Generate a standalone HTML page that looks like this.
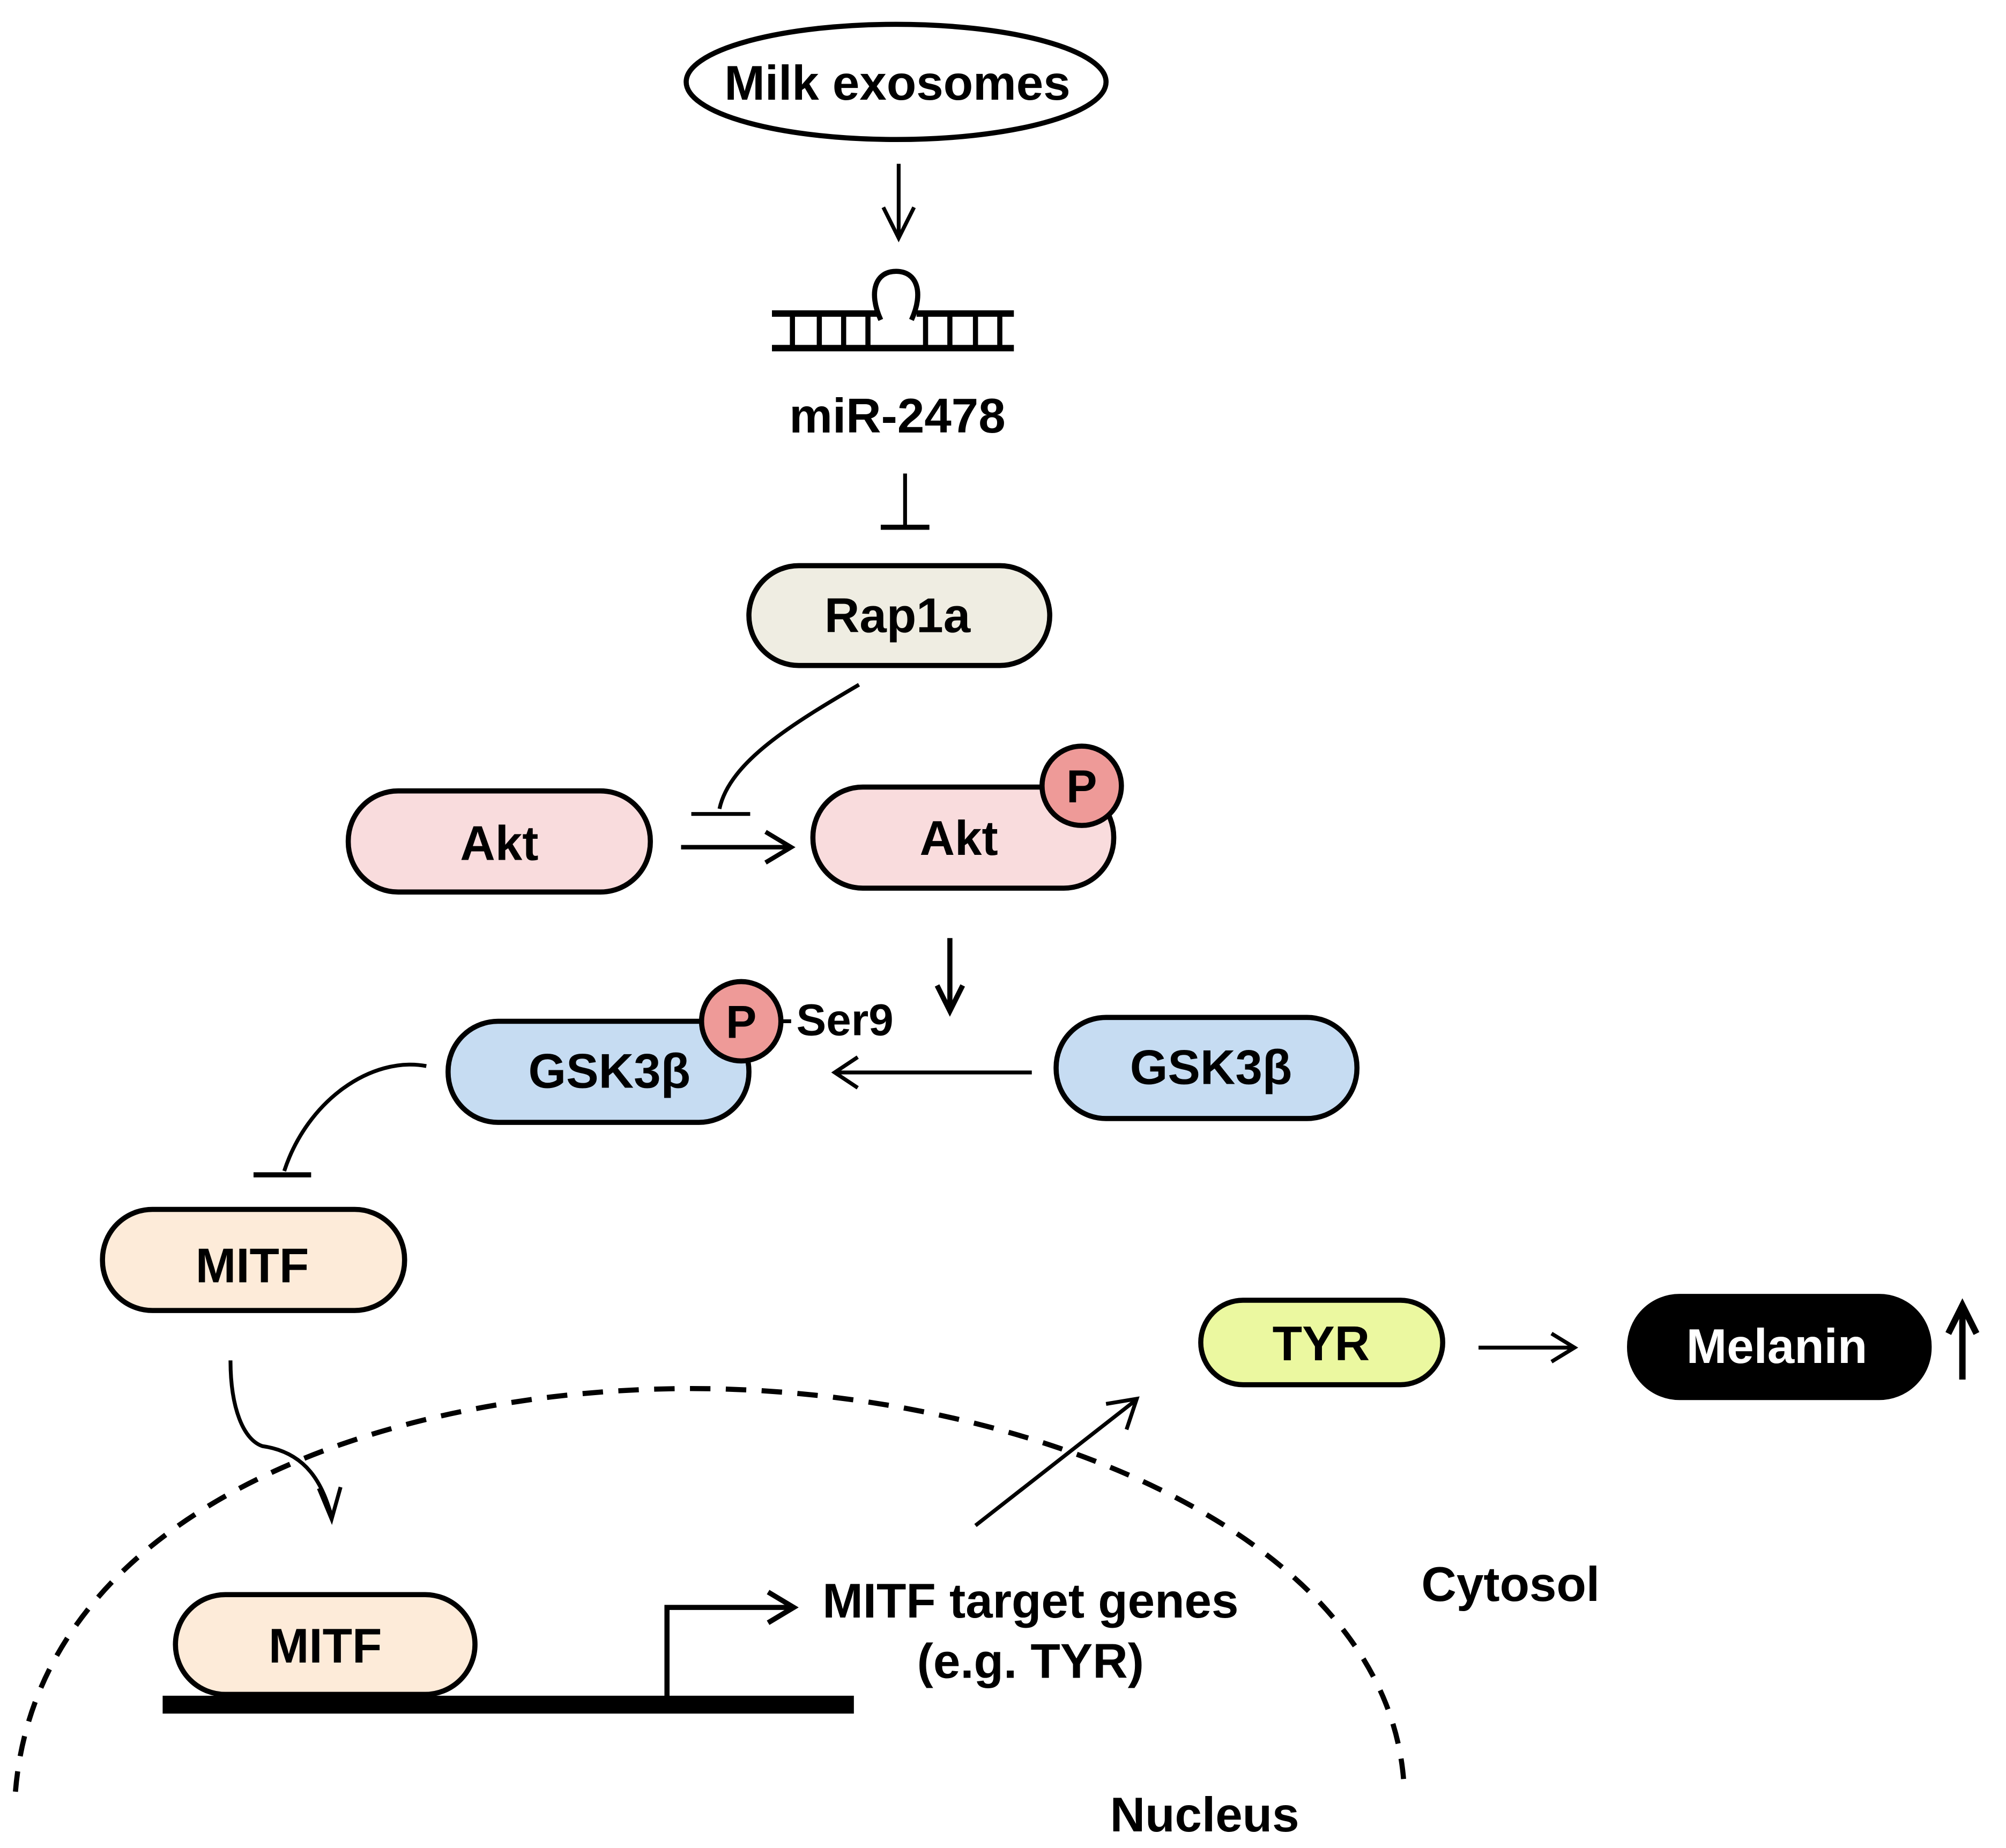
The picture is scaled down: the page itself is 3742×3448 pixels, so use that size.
<!DOCTYPE html>
<html><head><meta charset="utf-8"><style>
html,body{margin:0;padding:0;background:#fff;}
svg{display:block;}
text{font-family:"Liberation Sans",Arial,sans-serif;font-weight:bold;fill:#000;text-anchor:middle;}
</style></head><body>
<svg width="3742" height="3448" viewBox="0 0 1567 1444" xmlns="http://www.w3.org/2000/svg">
<g fill="none" stroke="#000" stroke-width="3" stroke-linecap="butt">
<ellipse cx="700" cy="64" rx="164" ry="45" fill="#fff" stroke-width="4"/>
<line x1="702" y1="128" x2="702" y2="185"/>
<polyline points="690,162 702,186 714,162"/>
<line x1="603" y1="245" x2="686" y2="245" stroke-width="5"/>
<line x1="716" y1="245" x2="792" y2="245" stroke-width="5"/>
<line x1="603" y1="272" x2="792" y2="272" stroke-width="5"/>
<path d="M688,250 C678,228 684,212 700,212 C716,212 722,228 712,250" stroke-width="4"/>
<g stroke-width="4">
<line x1="619" y1="245" x2="619" y2="272"/><line x1="640" y1="245" x2="640" y2="272"/>
<line x1="659" y1="245" x2="659" y2="272"/><line x1="678" y1="245" x2="678" y2="272"/>
<line x1="723" y1="245" x2="723" y2="272"/><line x1="742" y1="245" x2="742" y2="272"/>
<line x1="762" y1="245" x2="762" y2="272"/><line x1="781" y1="245" x2="781" y2="272"/>
</g>
<line x1="707" y1="370" x2="707" y2="411"/>
<line x1="688" y1="412" x2="726" y2="412" stroke-width="4"/>
<rect x="585" y="442" width="235" height="78" rx="39" fill="#efede2" stroke-width="4"/>
<path d="M671,535 C620,565 570,595 562,632"/>
<line x1="540" y1="636" x2="586" y2="636"/>
<line x1="532" y1="662" x2="616" y2="662" stroke-width="3.5"/>
<polyline points="598,650 618,662 598,674" stroke-width="3.5"/>
<rect x="272" y="618" width="236" height="79" rx="39" fill="#f9dcdd" stroke-width="4"/>
<rect x="635" y="615" width="235" height="79" rx="39" fill="#f9dcdd" stroke-width="4"/>
<circle cx="845" cy="614" r="31" fill="#ee9a98" stroke-width="4"/>
<line x1="742" y1="733" x2="742" y2="788" stroke-width="4"/>
<polyline points="732,770 742,790 752,770" stroke-width="4"/>
<rect x="350" y="798" width="235" height="79" rx="39" fill="#c6dcf2" stroke-width="4"/>
<circle cx="579" cy="798" r="31" fill="#ee9a98" stroke-width="4"/>
<line x1="610" y1="798" x2="618" y2="798"/>
<rect x="825" y="795" width="235" height="79" rx="39" fill="#c6dcf2" stroke-width="4"/>
<line x1="806" y1="838" x2="653" y2="838"/>
<polyline points="670,826 652,838 670,850"/>
<path d="M333,833 C290,825 240,860 222,915"/>
<line x1="198" y1="918" x2="243" y2="918" stroke-width="4"/>
<rect x="80" y="945" width="236" height="79" rx="39" fill="#fdebd9" stroke-width="4"/>
<path d="M180,1063 C180,1100 190,1125 205,1130 C240,1135 252,1160 259,1185"/>
<polyline points="249,1163 259,1187 266,1162"/>
<path d="M12,1400 C30,1180 300,1085 540,1085 C800,1085 1090,1200 1097,1400" stroke-width="4" stroke-dasharray="16,12"/>
<line x1="762" y1="1192" x2="886" y2="1095"/>
<polyline points="864,1097 888,1093 880,1117"/>
<rect x="938" y="1016" width="189" height="66" rx="33" fill="#ebf8a0" stroke-width="4"/>
<line x1="1155" y1="1053" x2="1229" y2="1053"/>
<polyline points="1212,1042 1230,1053 1212,1064"/>
<rect x="1272" y="1012" width="236" height="81" rx="40" fill="#000" stroke-width="2"/>
<line x1="1533" y1="1078" x2="1533" y2="1025" stroke-width="5"/>
<polyline points="1522,1042 1533,1020 1544,1042" stroke-width="5"/>
<rect x="137" y="1246" width="234" height="78" rx="39" fill="#fdebd9" stroke-width="4"/>
<line x1="127" y1="1332" x2="667" y2="1332" stroke-width="14"/>
<polyline points="521,1326 521,1256 618,1256" stroke-width="4"/>
<polyline points="600,1244 620,1256 600,1268" stroke-width="4"/>
</g>
<text x="701" y="78" font-size="38">Milk exosomes</text>
<text x="701" y="338" font-size="38">miR-2478</text>
<text x="701" y="494" font-size="38">Rap1a</text>
<text x="390" y="672" font-size="38">Akt</text>
<text x="749" y="668" font-size="38">Akt</text>
<text x="845" y="627" font-size="36">P</text>
<text x="476" y="850" font-size="38">GSK3β</text>
<text x="579" y="811" font-size="36">P</text>
<text x="660" y="809" font-size="35">Ser9</text>
<text x="946" y="847" font-size="38">GSK3β</text>
<text x="197" y="1002" font-size="38">MITF</text>
<text x="1032" y="1063" font-size="38">TYR</text>
<text x="1388" y="1065" font-size="38" style="fill:#fff">Melanin</text>
<text x="254" y="1299" font-size="38">MITF</text>
<text x="805" y="1264" font-size="38">MITF target genes</text>
<text x="805" y="1311" font-size="38">(e.g. TYR)</text>
<text x="1180" y="1251" font-size="38">Cytosol</text>
<text x="941" y="1431" font-size="38">Nucleus</text>
</svg>
</body></html>
